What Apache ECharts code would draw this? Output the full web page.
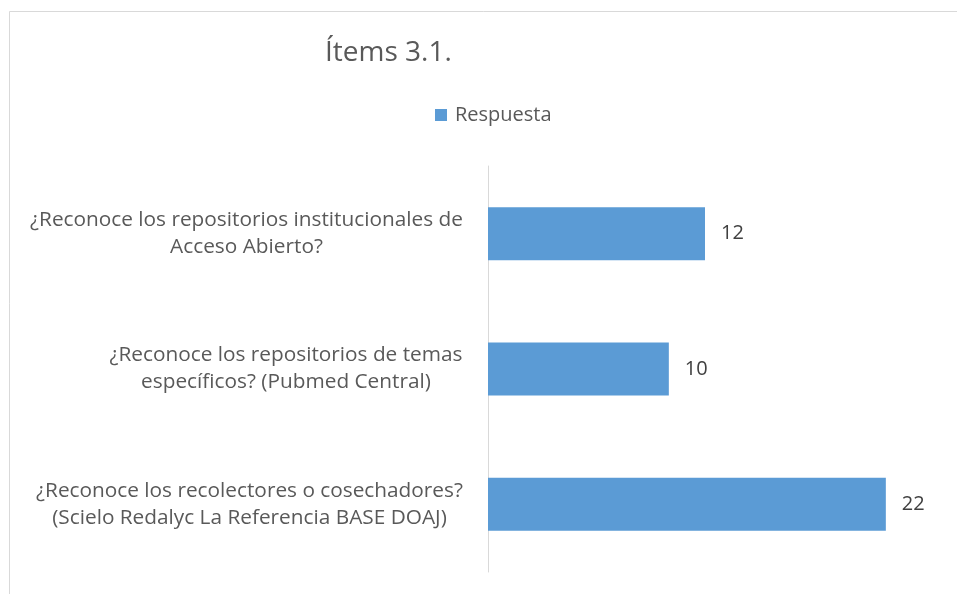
<!DOCTYPE html>
<html>
<head>
<meta charset="utf-8">
<script src="https://cdn.jsdelivr.net/npm/echarts@6/dist/echarts.min.js"></script>
<style>
  html, body { margin: 0; padding: 0; background: #fff; }
  #main { width: 957px; height: 594px; }
</style>
</head>
<body>
<div id="main"></div>
<script>
// data, top to bottom as in the picture
const titleText = 'Ítems 3.1.';
const seriesName = 'Respuesta';
const categories = [
  ['¿Reconoce los repositorios institucionales de', 'Acceso Abierto?'],
  ['¿Reconoce los repositorios de temas', 'específicos? (Pubmed Central)'],
  ['¿Reconoce los recolectores o cosechadores?', '(Scielo Redalyc La Referencia BASE DOAJ)']
];
const values = [12, 10, 22];

const FONT = '"Open Sans", "Noto Sans", sans-serif';
const labelSize = 20.8;

// measure the widest line of each label so the lines can be centred in a block
const ctx = document.createElement('canvas').getContext('2d');
ctx.font = labelSize + 'px ' + FONT;
const rich = {};
categories.forEach(function (lines, i) {
  let w = 0;
  lines.forEach(function (l) { w = Math.max(w, ctx.measureText(l).width); });
  rich['c' + i] = {
    width: Math.ceil(w) + 2,
    align: 'center',
    fontSize: labelSize,
    lineHeight: 27,
    fontFamily: FONT,
    color: '#595959'
  };
});

let myChart = echarts.init(document.getElementById('main'));
myChart.setOption({
  backgroundColor: '#fff',
  animation: false,
  title: {
    text: titleText,
    left: 320,
    top: 34,
    textStyle: { fontFamily: FONT, fontSize: 28, fontWeight: 'normal', color: '#595959' }
  },
  legend: {
    data: [seriesName],
    left: 430,
    top: 100,
    icon: 'rect',
    itemWidth: 12,
    itemHeight: 12,
    textStyle: { fontFamily: FONT, fontSize: 20, color: '#595959', padding: [0, 0, 0, 3] }
  },
  graphic: [{
    type: 'rect',
    silent: true,
    shape: { x: 9.5, y: 11.5, width: 2000, height: 2000 },
    style: { fill: 'none', stroke: '#d9d9d9', lineWidth: 1 }
  }],
  grid: { left: 488, top: 166, width: 434, height: 406 },
  xAxis: { type: 'value', min: 0, max: 24, show: false },
  yAxis: {
    type: 'category',
    inverse: true,
    data: categories.map(function (c) { return c.join('\n'); }),
    axisLine: { show: true, lineStyle: { color: '#d9d9d9', width: 1 } },
    axisTick: { show: false },
    axisLabel: {
      margin: 24,
      align: 'right',
      formatter: function (value, index) {
        return categories[index].map(function (l) { return '{c' + index + '|' + l + '}'; }).join('\n');
      },
      rich: rich
    }
  },
  series: [{
    name: seriesName,
    type: 'bar',
    data: values,
    barWidth: 53,
    itemStyle: { color: '#5B9BD5' },
    label: {
      show: true,
      position: 'right',
      distance: 16,
      fontFamily: FONT,
      fontSize: 20,
      color: '#404040'
    }
  }]
});
</script>
</body>
</html>
